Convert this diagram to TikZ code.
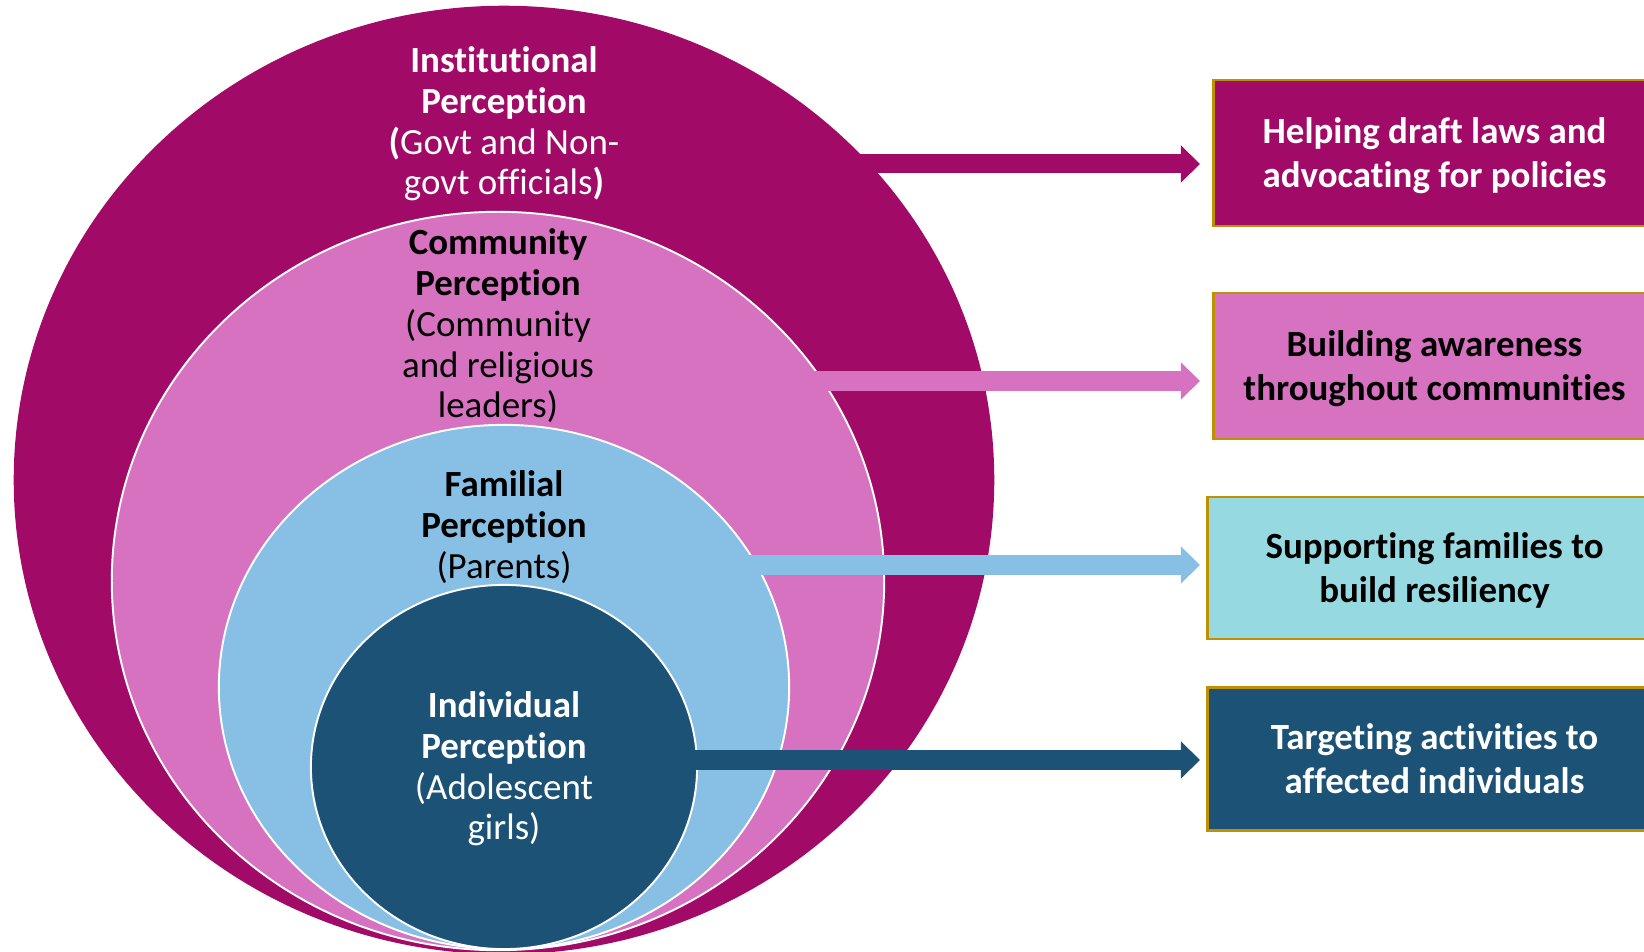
\documentclass[tikz,border=0pt]{standalone}
\usepackage{fontspec}
\setmainfont{Carlito}[Ligatures={NoCommon,NoRequired,NoContextual}]
\usetikzlibrary{arrows.meta}
\definecolor{instpurple}{HTML}{A20A67}
\definecolor{commpink}{HTML}{D672C0}
\definecolor{famblue}{HTML}{88C0E5}
\definecolor{indblue}{HTML}{1C5276}
\definecolor{teallight}{HTML}{97D9E0}
\definecolor{goldline}{HTML}{BF9000}
\begin{document}
\begin{tikzpicture}[x=0.01cm, y=-0.01cm,
    ring/.style={draw=white, line width=0.55pt},
    ringtext/.style={align=center, font=\fontsize{10.5}{11.6}\selectfont},
    goalbox/.style={draw=goldline, line width=0.8pt, anchor=west, minimum width=4.42cm,
        align=center, text depth=0pt, font=\fontsize{10.5}{12.5}\selectfont\bfseries},
    flowarrow/.style={line width=0.19cm, shorten >=0.12cm,
        -{Triangle[length=0.19cm, width=0.37cm, line width=0pt]}}]
    \clip (0,0) rectangle (1644,952);
    % nested perception levels
    \fill[instpurple] (504,480) ellipse [x radius=4.90cm, y radius=4.74cm];
    \filldraw[ring, fill=commpink] (498,581) ellipse [x radius=3.86cm, y radius=3.69cm];
    \filldraw[ring, fill=famblue] (504,687) ellipse [x radius=2.85cm, y radius=2.62cm];
    \filldraw[ring, fill=indblue] (504,767) ellipse [x radius=1.93cm, y radius=1.82cm];
    % actions
    \node[goalbox, fill=instpurple, text=white, minimum height=1.46cm] (goal1) at (1212,153)
        {Helping draft laws and\\advocating for policies};
    \node[goalbox, fill=commpink, minimum height=1.46cm] (goal2) at (1212,366)
        {Building awareness\\throughout communities};
    \node[goalbox, fill=teallight, minimum height=1.42cm, minimum width=4.54cm] (goal3) at (1206,568)
        {Supporting families to\\build resiliency};
    \node[goalbox, fill=indblue, text=white, minimum height=1.43cm, minimum width=4.54cm] (goal4) at (1206,759)
        {Targeting activities to\\affected individuals};
    % arrows
    \coordinate (s1) at (780,164);
    \coordinate (s2) at (760,381);
    \coordinate (s3) at (700,565);
    \coordinate (s4) at (640,760);
    \draw[flowarrow, instpurple] (s1) -- (s1 -| goal1.west);
    \draw[flowarrow, commpink] (s2) -- (s2 -| goal2.west);
    \draw[flowarrow, famblue, shorten >=0.06cm] (s3) -- (s3 -| goal3.west);
    \draw[flowarrow, indblue, shorten >=0.06cm] (s4) -- (s4 -| goal4.west);
    % labels
    \node[ringtext, text=white] (insttext) at (504,124)
        {\textbf{Institutional}\\\textbf{Perception}\\\textbf{(}Govt and Non-\\govt officials\textbf{)}};
    \node[ringtext] (commtext) at (498,326)
        {\textbf{Community}\\\textbf{Perception}\\(Community\\and religious\\leaders)};
    \node[ringtext] (famtext) at (504,527)
        {\textbf{Familial}\\\textbf{Perception}\\(Parents)};
    \node[ringtext, text=white] (indtext) at (504,769)
        {\textbf{Individual}\\\textbf{Perception}\\(Adolescent\\girls)};
\end{tikzpicture}
\end{document}
